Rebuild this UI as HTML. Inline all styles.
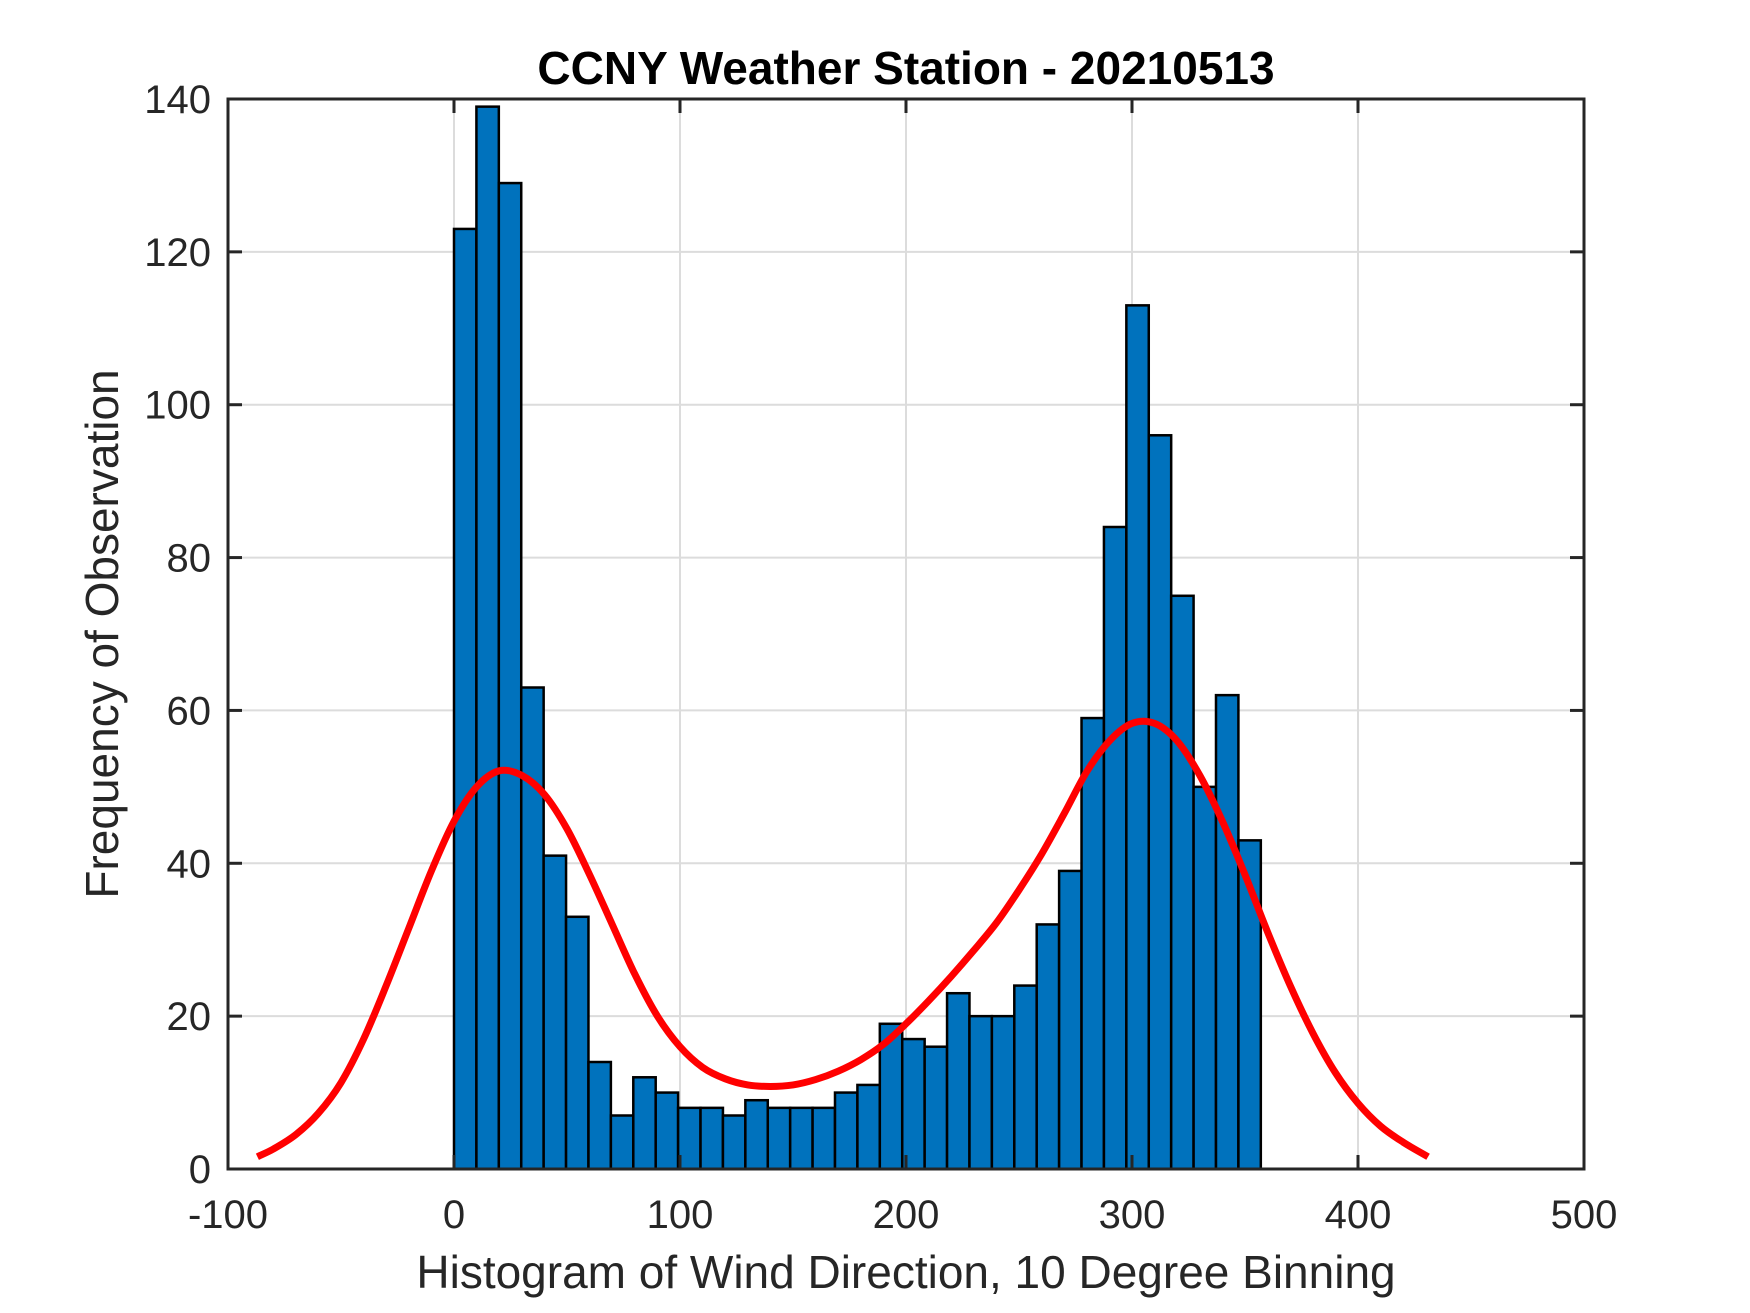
<!DOCTYPE html>
<html><head><meta charset="utf-8"><style>
html,body{margin:0;padding:0;background:#fff}
svg{display:block}
text{font-family:"Liberation Sans",Arial,sans-serif;fill:#262626}
</style></head><body>
<svg id="chart" width="1750" height="1313" viewBox="0 0 1750 1313">
<rect width="1750" height="1313" fill="#fff"/>
<g id="grid"></g>
<g id="bars"></g>
<g id="curve"></g>
<g id="axes"></g>
<text x="906" y="84" text-anchor="middle" font-size="46" font-weight="bold" style="fill:#000">CCNY Weather Station - 20210513</text>
<text x="906" y="1288" text-anchor="middle" font-size="46">Histogram of Wind Direction, 10 Degree Binning</text>
<text x="0" y="0" transform="translate(118,634) rotate(-90)" text-anchor="middle" font-size="46">Frequency of Observation</text>
</svg>
<script>
const binStart = 0;
const binWidth = 357/36;
const counts = [123,139,129,63,41,33,14,7,12,10,8,8,7,9,8,8,8,10,11,19,17,16,23,20,20,24,32,39,59,84,113,96,75,50,62,43];
const curveX = [-87,-80,-70,-60,-50,-40,-30,-20,-10,0,10,20,30,40,50,60,70,80,90,100,110,120,130,140,150,160,170,180,190,200,210,220,230,240,250,260,270,280,290,300,310,320,330,340,350,360,370,380,390,400,410,420,431];
const curveY = [1.6,2.6,4.5,7.3,11.3,17,24,31.5,39,45.5,50,52.1,51.5,49,44.5,38.5,32,25.5,20,16,13.3,11.8,11,10.8,11,11.7,12.8,14.3,16.3,19,22,25.2,28.6,32.2,36.5,41.2,46.5,52,56,58.3,58.3,56,51.5,45.5,38.5,31,24,17.8,12.6,8.6,5.6,3.5,1.6];
const xTicks = [-100,0,100,200,300,400,500];
const yTicks = [0,20,40,60,80,100,120,140];

const L=228,R=1584,T=99,B=1169;
const xMin=-100,xMax=500,yMin=0,yMax=140;
const sx=v=>L+(v-xMin)/(xMax-xMin)*(R-L);
const sy=v=>B-(v-yMin)/(yMax-yMin)*(B-T);
const NS="http://www.w3.org/2000/svg";
function mk(tag,attrs,parent){const e=document.createElementNS(NS,tag);for(const k in attrs)e.setAttribute(k,attrs[k]);parent.appendChild(e);return e;}

const grid=document.getElementById('grid');
xTicks.forEach(t=>{if(t>xMin&&t<xMax){const l=mk('line',{x1:sx(t),x2:sx(t),y1:T,y2:B,stroke:'#dcdcdc','stroke-width':2},grid);

}});
yTicks.forEach(t=>{if(t>yMin&&t<yMax){const l=mk('line',{x1:L,x2:R,y1:sy(t),y2:sy(t),stroke:'#dcdcdc','stroke-width':2},grid);

}});

const bars=document.getElementById('bars');
counts.forEach((c,i)=>{const x0=sx(binStart+i*binWidth),x1=sx(binStart+(i+1)*binWidth);
const r=mk('rect',{x:x0,y:sy(c),width:x1-x0,height:sy(0)-sy(c),fill:'#0072bd',stroke:'#000','stroke-width':2.5},bars);

});

const P=curveX.map((x,i)=>[sx(x),sy(curveY[i])]);
let d='M'+P[0][0]+','+P[0][1];
for(let i=0;i<P.length-1;i++){
const p0=P[Math.max(i-1,0)],p1=P[i],p2=P[i+1],p3=P[Math.min(i+2,P.length-1)];
const h=p2[0]-p1[0];
const m1=(p2[1]-p0[1])/((p2[0]-p0[0])||1), m2=(p3[1]-p1[1])/((p3[0]-p1[0])||1);
const c1=[p1[0]+h/3,p1[1]+m1*h/3],c2=[p2[0]-h/3,p2[1]-m2*h/3];
d+=' C'+c1[0]+','+c1[1]+' '+c2[0]+','+c2[1]+' '+p2[0]+','+p2[1];}
const path=mk('path',{d:d,fill:'none',stroke:'#ff0000','stroke-width':7,'stroke-linecap':'butt'},document.getElementById('curve'));



const axes=document.getElementById('axes');
const box=mk('rect',{x:L,y:T,width:R-L,height:B-T,fill:'none',stroke:'#262626','stroke-width':3},axes);


xTicks.forEach(t=>{const x=sx(t);
mk('line',{x1:x,x2:x,y1:B,y2:B-14,stroke:'#262626','stroke-width':3},axes);
mk('line',{x1:x,x2:x,y1:T,y2:T+14,stroke:'#262626','stroke-width':3},axes);
const tx=mk('text',{x:x,y:1228,'text-anchor':'middle','font-size':40},axes);tx.textContent=t;

});
yTicks.forEach(t=>{const y=sy(t);
mk('line',{x1:L,x2:L+14,y1:y,y2:y,stroke:'#262626','stroke-width':3},axes);
mk('line',{x1:R,x2:R-14,y1:y,y2:y,stroke:'#262626','stroke-width':3},axes);
const tx=mk('text',{x:211,y:y+14,'text-anchor':'end','font-size':40},axes);tx.textContent=t;

});
</script>
</body></html>
